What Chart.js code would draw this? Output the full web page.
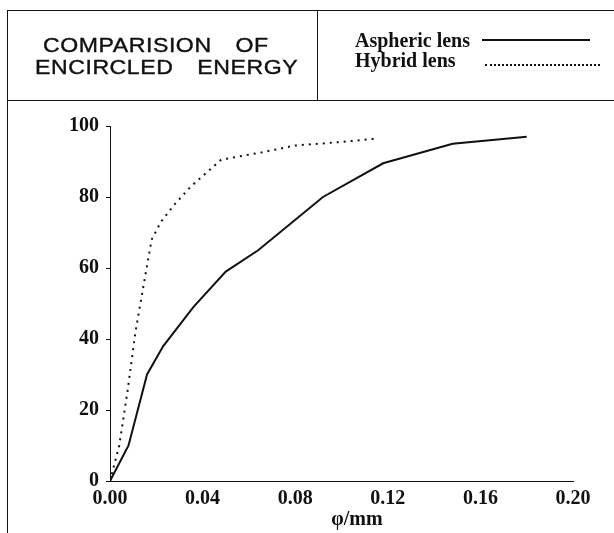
<!DOCTYPE html>
<html>
<head>
<meta charset="utf-8">
<script src="https://cdn.jsdelivr.net/npm/chart.js@4/dist/chart.umd.min.js"></script>
<style>
  body { margin: 0; background: #fff; }
  #wrap { position: relative; width: 614px; height: 533px; overflow: hidden; }
  #c { position: absolute; left: 0; top: 0; }
  .ln { position: absolute; background: #111; }
  .title { position: absolute; font-family: "Liberation Sans", Arial, sans-serif; font-size: 21px;
           letter-spacing: 0.5px; word-spacing: 4.5px; white-space: pre; color: #111; line-height: 24px;
           -webkit-text-stroke: 0.4px #111;
           transform: scaleX(1.1); transform-origin: 0 0; }
  .leg { position: absolute; font-family: "Liberation Serif", "Times New Roman", serif;
         font-size: 20px; font-weight: bold; line-height: 20px; color: #111; white-space: pre; }
  #xtitle { position: absolute; left: 307px; width: 100px; top: 508px; text-align: center;
            font-family: "Liberation Serif", "Times New Roman", serif; font-size: 20px;
            font-weight: bold; line-height: 20px; color: #111; }
</style>
</head>
<body>
<div id="wrap">
  <canvas id="c" width="614" height="533"></canvas>
  <!-- frame -->
  <div class="ln" style="left:7px;top:10px;width:607px;height:1px"></div>
  <div class="ln" style="left:7px;top:100px;width:607px;height:1px"></div>
  <div class="ln" style="left:7px;top:10px;width:1px;height:523px"></div>
  <div class="ln" style="left:317px;top:10px;width:1px;height:90px"></div>
  <!-- title -->
  <div class="title" style="left:43px;top:33px">COMPARISION  OF</div>
  <div class="title" style="left:35px;top:55px">ENCIRCLED  ENERGY</div>
  <!-- legend -->
  <div class="leg" id="leg1" style="left:355px;top:30px"></div>
  <div class="leg" id="leg2" style="left:355px;top:50px"></div>
  <div style="position:absolute;left:482px;top:39px;width:108px;border-top:2px solid #111"></div>
  <div style="position:absolute;left:485px;top:64px;width:115px;border-top:2px dotted #111"></div>
  <div id="xtitle"></div>
</div>
<script>
var seriesNames = ['Aspheric lens', 'Hybrid lens'];

var asphericX = [0, 0.008, 0.016, 0.023, 0.036, 0.050, 0.064, 0.092, 0.118, 0.148, 0.180];
var asphericY = [0, 10, 30, 38, 49, 59, 65, 80, 89.5, 95, 97];

var hybridX = [0, 0.004, 0.0075, 0.011, 0.015, 0.018, 0.022, 0.028, 0.035, 0.048, 0.065, 0.080, 0.100, 0.116];
var hybridY = [0, 10, 25, 42, 57, 68, 73, 78, 83, 90.5, 92.5, 94.5, 95.5, 96.5];

var xTicks = [0, 0.04, 0.08, 0.12, 0.16, 0.20];
var yTicks = [0, 20, 40, 60, 80, 100];
var xTitle = 'φ/mm';

document.getElementById('leg1').textContent = seriesNames[0];
document.getElementById('leg2').textContent = seriesNames[1];
document.getElementById('xtitle').textContent = xTitle;

function toPoints(xs, ys) {
    var pts = [];
    for (var i = 0; i < xs.length; i++) {
        pts.push({x: xs[i], y: ys[i]});
    }
    return pts;
}

var serif = '"Liberation Serif", "Times New Roman", serif';
var tickFont = {family: serif, size: 20, weight: 'bold'};

new Chart(document.getElementById('c'), {
    type: 'scatter',
    data: {
        datasets: [
            {
                label: seriesNames[0],
                data: toPoints(asphericX, asphericY),
                showLine: true,
                borderColor: '#111',
                borderWidth: 2,
                pointRadius: 0,
                tension: 0
            },
            {
                label: seriesNames[1],
                data: toPoints(hybridX, hybridY),
                showLine: true,
                borderColor: '#111',
                borderWidth: 2,
                borderDash: [2, 5],
                pointRadius: 0,
                tension: 0
            }
        ]
    },
    options: {
        responsive: false,
        animation: false,
        layout: {padding: {left: 0, top: 126, right: 41, bottom: 0}},
        plugins: {legend: {display: false}, tooltip: {enabled: false}},
        scales: {
            x: {
                type: 'linear',
                min: 0,
                max: 0.2,
                afterBuildTicks: function (s) { s.ticks = xTicks.map(function (v) { return {value: v}; }); },
                afterFit: function (s) { s.height = 52; },
                grid: {display: false, drawTicks: false},
                border: {display: true, color: '#111', width: 1},
                ticks: {
                    color: '#111',
                    font: tickFont,
                    padding: 6,
                    maxRotation: 0,
                    callback: function (v) { return v.toFixed(2); }
                }
            },
            y: {
                min: 0,
                max: 100,
                afterBuildTicks: function (s) { s.ticks = yTicks.map(function (v) { return {value: v}; }); },
                afterFit: function (s) { s.width = 110; },
                grid: {drawOnChartArea: false, drawTicks: true, tickLength: 4, color: '#111'},
                border: {display: true, color: '#111', width: 1},
                ticks: {color: '#111', font: tickFont, padding: 7}
            }
        }
    }
});
</script>
</body>
</html>
